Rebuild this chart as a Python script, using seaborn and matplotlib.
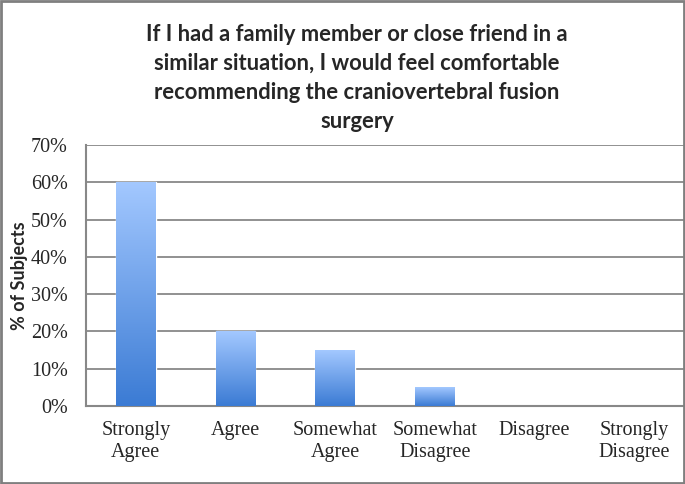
import numpy as np
import matplotlib
matplotlib.use("Agg")
import matplotlib.pyplot as plt
import seaborn as sns
from matplotlib.colors import LinearSegmentedColormap
from matplotlib.patches import Rectangle

categories = ["Strongly\nAgree", "Agree", "Somewhat\nAgree",
              "Somewhat\nDisagree", "Disagree", "Strongly\nDisagree"]
percent = [60, 20, 15, 5, 0, 0]
y_ticks = [0, 10, 20, 30, 40, 50, 60, 70]

title = ("If I had a family member or close friend in a\n"
         "similar situation, I would feel comfortable\n"
         "recommending the craniovertebral fusion\n"
         "surgery")

sns.set_style("white")
plt.rcParams["font.family"] = ["Liberation Serif", "DejaVu Serif"]

fig = plt.figure(figsize=(6.85, 4.84), dpi=100)
ax = fig.add_axes([86 / 685, 1 - 406 / 484, 598 / 685, (406 - 145) / 484])

sns.barplot(x=categories, y=percent, color="#5b95e5", width=0.4,
            ax=ax, zorder=2)

# gradient fill: light at top, darker at bottom
cmap = LinearSegmentedColormap.from_list("bar", ["#3b7bd4", "#a3c8ff"])
grad = np.linspace(0, 1, 256).reshape(-1, 1)
for p in ax.patches:
    x0, y0 = p.get_x(), p.get_y()
    w, h = p.get_width(), p.get_height()
    if h <= 0:
        continue
    im = ax.imshow(grad, cmap=cmap, origin="lower", aspect="auto",
                   extent=[x0, x0 + w, y0, y0 + h], zorder=3)
    im.set_clip_path(p)

ax.set_xlim(-0.5, 5.5)
ax.set_ylim(0, 70)
ax.set_yticks(y_ticks)
ax.set_yticklabels([f"{t}%" for t in y_ticks], fontsize=14.5)
ax.set_xticks(np.arange(len(categories)))
ax.set_xticklabels(categories, fontsize=14.5, linespacing=1.2)
ax.set_xticks(np.arange(-0.5, 6, 1), minor=True)
ax.tick_params(axis="x", which="major", length=0, pad=11)
ax.tick_params(axis="x", which="minor", length=5, width=1.5, color="#808080",
               direction="out")
ax.tick_params(axis="y", length=5, width=1.5, color="#808080", direction="out",
               pad=8)
ax.grid(axis="y", color="#888888", linewidth=1.3, zorder=0)
ax.set_axisbelow(True)
for side in ["top", "right"]:
    ax.spines[side].set_visible(False)
for side in ["left", "bottom"]:
    ax.spines[side].set_color("#888888")
    ax.spines[side].set_linewidth(1.5)

ax.set_ylabel("% of Subjects", fontsize=13, fontweight="bold",
              family=["Lato", "DejaVu Sans"], labelpad=2)

fig.text(357 / 685, 1 - 24 / 484, title, ha="center", va="top",
         fontsize=15.8, fontweight="bold", family=["Lato", "DejaVu Sans"],
         linespacing=1.48)

fig.patches.append(Rectangle((0.002, 0.003), 0.996, 0.994,
                             transform=fig.transFigure, fill=False,
                             edgecolor="#7f7f7f", linewidth=2))

fig.savefig("out.png", dpi=100)
